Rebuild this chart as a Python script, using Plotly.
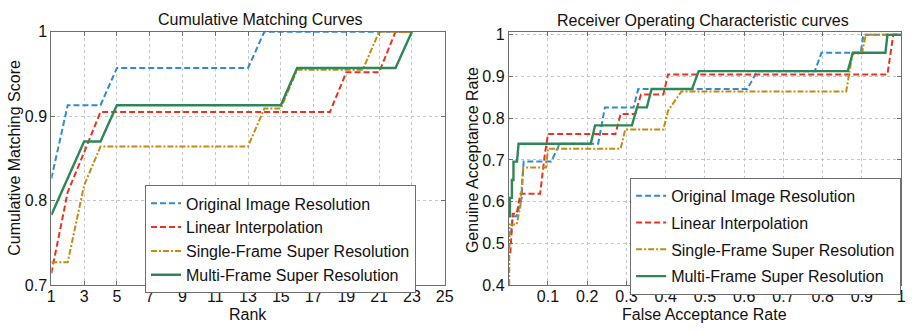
import plotly.graph_objects as go

# ---------------- data ----------------
ranks = [1, 2, 3, 4, 5, 6, 7, 8, 9, 10, 11, 12, 13, 14, 15, 16, 17, 18, 19, 20, 21, 22, 23]
cmc_original = [0.826, 0.913, 0.913, 0.913, 0.957, 0.957, 0.957, 0.957, 0.957, 0.957, 0.957, 0.957,
                0.957, 1.0, 1.0, 1.0, 1.0, 1.0, 1.0, 1.0, 1.0, 1.0, 1.0]
cmc_linear = [0.714, 0.810, 0.857, 0.905, 0.905, 0.905, 0.905, 0.905, 0.905, 0.905, 0.905, 0.905,
              0.905, 0.905, 0.905, 0.905, 0.905, 0.905, 0.952, 0.952, 0.952, 1.0, 1.0]
cmc_single = [0.727, 0.727, 0.818, 0.864, 0.864, 0.864, 0.864, 0.864, 0.864, 0.864, 0.864, 0.864,
              0.864, 0.909, 0.909, 0.955, 0.955, 0.955, 0.955, 0.955, 1.0, 1.0, 1.0]
cmc_multi = [0.783, 0.826, 0.870, 0.870, 0.913, 0.913, 0.913, 0.913, 0.913, 0.913, 0.913, 0.913,
             0.913, 0.913, 0.913, 0.957, 0.957, 0.957, 0.957, 0.957, 0.957, 0.957, 1.0]

roc_original_far = [0.006, 0.010, 0.020, 0.033, 0.035, 0.038, 0.108, 0.130, 0.228, 0.245, 0.318,
                    0.330, 0.608, 0.633, 0.780, 0.797, 0.897, 0.904, 1.0]
roc_original_gar = [0.522, 0.565, 0.565, 0.609, 0.652, 0.696, 0.696, 0.739, 0.739, 0.826, 0.826,
                    0.870, 0.870, 0.913, 0.913, 0.957, 0.957, 1.0, 1.0]
roc_linear_far = [0.004, 0.007, 0.010, 0.020, 0.030, 0.080, 0.092, 0.100, 0.272, 0.285, 0.322,
                  0.337, 0.394, 0.406, 0.965, 0.980, 1.0]
roc_linear_gar = [0.476, 0.524, 0.571, 0.571, 0.619, 0.619, 0.714, 0.762, 0.762, 0.810, 0.810,
                  0.857, 0.857, 0.905, 0.905, 1.0, 1.0]
roc_single_far = [0.001, 0.002, 0.020, 0.030, 0.033, 0.037, 0.095, 0.100, 0.285, 0.297, 0.394,
                  0.406, 0.440, 0.860, 0.876, 0.900, 0.910, 1.0]
roc_single_gar = [0.400, 0.545, 0.545, 0.591, 0.636, 0.682, 0.682, 0.727, 0.727, 0.773, 0.773,
                  0.818, 0.864, 0.864, 0.955, 0.955, 1.0, 1.0]
roc_multi_far = [0.0, 0.003, 0.003, 0.008, 0.008, 0.012, 0.012, 0.021, 0.025, 0.209, 0.220, 0.314,
                 0.327, 0.352, 0.364, 0.467, 0.484, 0.864, 0.877, 0.960, 0.965, 1.0]
roc_multi_gar = [0.565, 0.565, 0.609, 0.609, 0.652, 0.652, 0.696, 0.696, 0.739, 0.739, 0.783, 0.783,
                 0.826, 0.826, 0.870, 0.870, 0.913, 0.913, 0.957, 0.957, 1.0, 1.0]

names = ["Original Image Resolution", "Linear Interpolation",
         "Single-Frame Super Resolution", "Multi-Frame Super Resolution"]
colors = ["#2E8BCF", "#E8341F", "#C48B10", "#2E8757"]
dashes = ["6px,3px", "6px,3px", "6px,2px,2px,2px", "solid"]
widths = [2, 2, 2, 2.4]

W, H = 919, 332
FONT = "Liberation Sans, Arial, sans-serif"
FS = 16

fig = go.Figure()

cmc_series = [cmc_original, cmc_linear, cmc_single, cmc_multi]
for i, ys in enumerate(cmc_series):
    fig.add_trace(go.Scatter(x=ranks, y=ys, mode="lines", name=names[i],
                             line=dict(color=colors[i], dash=dashes[i], width=widths[i]),
                             xaxis="x", yaxis="y", legend="legend",
                             legendgroup="l%d" % i))

roc_series = [(roc_original_far, roc_original_gar), (roc_linear_far, roc_linear_gar),
              (roc_single_far, roc_single_gar), (roc_multi_far, roc_multi_gar)]
for i, (xs, ys) in enumerate(roc_series):
    fig.add_trace(go.Scatter(x=xs, y=ys, mode="lines", name=names[i],
                             line=dict(color=colors[i], dash=dashes[i], width=widths[i]),
                             xaxis="x2", yaxis="y2", legend="legend2",
                             legendgroup="r%d" % i))

def px_x(p):
    return p / W

def px_y(p):
    return 1 - p / H

axis_common = dict(showgrid=True, gridcolor="#c4c4c4", griddash="dot", gridwidth=1,
                   showline=True, linecolor="#6e6e6e", linewidth=1, mirror="ticks",
                   ticks="inside", ticklen=4, tickcolor="#6e6e6e", zeroline=False,
                   tickfont=dict(family=FONT, size=FS, color="#111"))

cmc_xticks = [1, 3, 5, 7, 9, 11, 13, 15, 17, 19, 21, 23, 25]
cmc_yticks = [0.7, 0.8, 0.9, 1.0]
roc_xticks = [0.1, 0.2, 0.3, 0.4, 0.5, 0.6, 0.7, 0.8, 0.9, 1.0]
roc_yticks = [0.4, 0.5, 0.6, 0.7, 0.8, 0.9, 1.0]

def lbl(v):
    return "1" if v == 1 else ("%g" % v)

fig.update_layout(
    width=W, height=H, margin=dict(l=0, r=0, t=0, b=0),
    paper_bgcolor="white", plot_bgcolor="white", showlegend=True,
    xaxis=dict(domain=[px_x(48), px_x(447)], range=[1, 25], tickvals=cmc_xticks,
               ticktext=[lbl(v) for v in cmc_xticks], anchor="y", ticklabelstandoff=-3,
               **axis_common),
    yaxis=dict(domain=[px_y(292), px_y(25)], range=[0.7, 1.0], tickvals=cmc_yticks,
               ticktext=[lbl(v) for v in cmc_yticks], anchor="x", **axis_common),
    xaxis2=dict(domain=[px_x(512), px_x(910)], range=[0, 1], tickvals=roc_xticks,
                ticktext=[lbl(v) for v in roc_xticks], anchor="y2", ticklabelstandoff=-3,
                **axis_common),
    yaxis2=dict(domain=[px_y(292), px_y(25)], range=[0.4, 1.0075], tickvals=roc_yticks,
                ticktext=[lbl(v) for v in roc_yticks], anchor="x2", **axis_common),
    legend=dict(x=px_x(143), y=px_y(187), xanchor="left", yanchor="top",
                bgcolor="white", bordercolor="#6e6e6e", borderwidth=1,
                font=dict(family=FONT, size=FS, color="#111"), itemwidth=30,
                tracegroupgap=0, traceorder="normal"),
    legend2=dict(x=px_x(910), y=px_y(179), xanchor="right", yanchor="top",
                 bgcolor="white", bordercolor="#6e6e6e", borderwidth=1,
                 font=dict(family=FONT, size=FS, color="#111"), itemwidth=30,
                 tracegroupgap=3, traceorder="grouped"),
)

ann_font = dict(family=FONT, size=FS, color="#111")
fig.add_annotation(text="Cumulative Matching Curves", x=px_x(260), y=px_y(12), xref="paper",
                   yref="paper", showarrow=False, font=ann_font, xanchor="center", yanchor="middle")
fig.add_annotation(text="Receiver Operating Characteristic curves", x=px_x(709), y=px_y(13),
                   xref="paper", yref="paper", showarrow=False, font=ann_font,
                   xanchor="center", yanchor="middle")
fig.add_annotation(text="Rank", x=px_x(247), y=px_y(323), xref="paper", yref="paper",
                   showarrow=False, font=ann_font, xanchor="center", yanchor="middle")
fig.add_annotation(text="False Acceptance Rate", x=px_x(711), y=px_y(323), xref="paper",
                   yref="paper", showarrow=False, font=ann_font, xanchor="center", yanchor="middle")
fig.add_annotation(text="Cumulative Matching Score", x=px_x(11), y=px_y(158), xref="paper",
                   yref="paper", showarrow=False, font=ann_font, textangle=-90,
                   xanchor="center", yanchor="middle")
fig.add_annotation(text="Genuine Acceptance Rate", x=px_x(476), y=px_y(160), xref="paper",
                   yref="paper", showarrow=False, font=ann_font, textangle=-90,
                   xanchor="center", yanchor="middle")

fig.write_html("out.html", config={"displayModeBar": False},
               post_script="document.body.style.margin='0px';"
                           "document.body.style.overflow='hidden';")
